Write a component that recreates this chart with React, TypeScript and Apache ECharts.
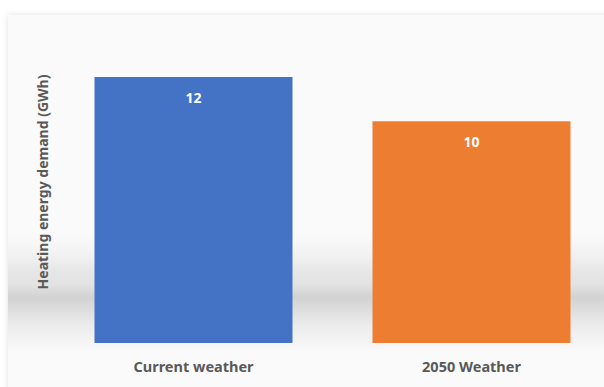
import React, { useEffect, useRef } from "react";
import * as echarts from "echarts";

const categories = ["Current weather", "2050 Weather"];
const values = [12, 10];
const barColors = ["#4472C4", "#ED7D31"];
const yAxisTitle = "Heating energy demand (GWh)";

export default function App() {
  const ref = useRef<HTMLDivElement>(null);
  useEffect(() => {
    if (!ref.current) return;
    const chart = echarts.init(ref.current, undefined, { renderer: "svg" });
    chart.setOption({
      animation: false,
      backgroundColor: "#ffffff",
      graphic: [
        {
          type: "rect",
          z: -10,
          silent: true,
          shape: { x: 8, y: 15, width: 600, height: 380 },
          style: {
            fill: "#fafafa",
            shadowBlur: 6,
            shadowColor: "rgba(0,0,0,0.12)",
          },
        },
        {
          type: "rect",
          z: -9,
          silent: true,
          shape: { x: 8, y: 225, width: 600, height: 125 },
          style: {
            fill: new echarts.graphic.LinearGradient(0, 0, 0, 1, [
              { offset: 0, color: "rgba(250,250,250,0)" },
              { offset: 0.35, color: "rgba(232,232,232,1)" },
              { offset: 0.48, color: "rgba(226,226,226,1)" },
              { offset: 0.58, color: "rgba(210,210,210,1)" },
              { offset: 0.8, color: "rgba(236,236,236,1)" },
              { offset: 1, color: "rgba(249,249,249,1)" },
            ]),
          },
        },
        {
          type: "text",
          x: 42,
          y: 182,
          rotation: Math.PI / 2,
          style: {
            text: yAxisTitle,
            fill: "#595959",
            font: "bold 14px 'Noto Sans'",
            align: "center",
            verticalAlign: "middle",
          },
        },
      ],
      grid: { left: 54.5, width: 556, top: 77, bottom: 44, outerBoundsMode: "none", containLabel: false },
      xAxis: {
        type: "category",
        data: categories,
        axisLine: { show: false },
        axisTick: { show: false },
        axisLabel: {
          color: "#595959",
          fontWeight: "bold",
          fontSize: 14.5,
          fontFamily: "Noto Sans",
          margin: 15,
        },
      },
      yAxis: {
        type: "value",
        min: 0,
        max: 12,
        show: false,
        splitLine: { show: false },
      },
      series: [
        {
          type: "bar",
          barWidth: 198,
          data: values.map((v, i) => ({ value: v, itemStyle: { color: barColors[i] } })),
          label: {
            show: true,
            position: "insideTop",
            distance: 13,
            color: "#ffffff",
            fontWeight: "bold",
            fontSize: 14,
            fontFamily: "Noto Sans",
          },
        },
      ],
    });
    return () => chart.dispose();
  }, []);
  return <div ref={ref} style={{ width: 604, height: 387, position: "absolute", left: 0, top: 0 }} />;
}
